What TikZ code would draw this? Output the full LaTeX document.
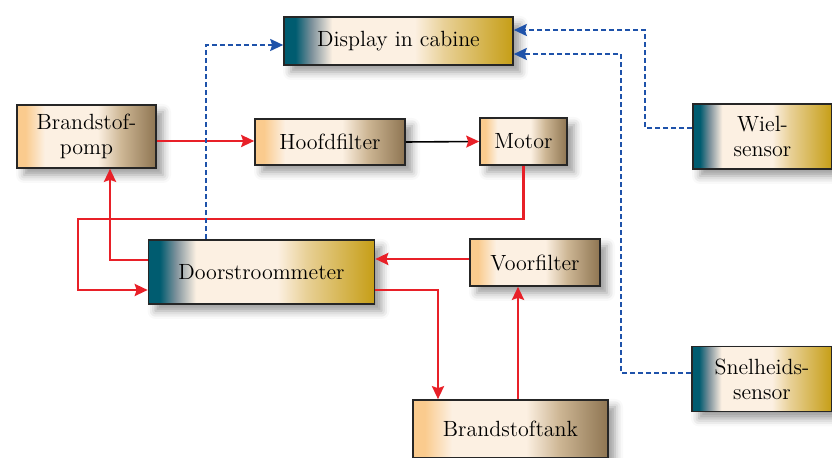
\documentclass[tikz,border=0pt]{standalone}
\usetikzlibrary{arrows.meta}
\usetikzlibrary{shadows.blur}

\definecolor{rood}{RGB}{232,32,40}
\definecolor{blauw}{RGB}{30,82,170}
\definecolor{petrol}{RGB}{0,92,112}
\definecolor{grijs}{RGB}{125,145,155}
\definecolor{creme}{RGB}{252,240,226}
\definecolor{lichtgoud}{RGB}{232,208,150}
\definecolor{goud}{RGB}{198,158,22}
\definecolor{oranje}{RGB}{250,203,142}
\definecolor{taan}{RGB}{205,182,148}
\definecolor{bruin}{RGB}{142,117,82}

\pgfdeclarehorizontalshading{sensorshade}{100bp}{color(0bp)=(petrol); color(25bp)=(petrol); color(27.5bp)=(petrol); color(31bp)=(grijs); color(35.5bp)=(creme); color(53.5bp)=(creme); color(60bp)=(lichtgoud); color(75bp)=(goud); color(100bp)=(goud)}
\pgfdeclarehorizontalshading{deelshade}{100bp}{color(0bp)=(oranje); color(25bp)=(oranje); color(28bp)=(oranje); color(35bp)=(creme); color(54bp)=(creme); color(62.5bp)=(taan); color(75bp)=(bruin); color(100bp)=(bruin)}

\begin{document}
\begin{tikzpicture}[x=0.5pt, y=-0.5pt]
    \tikzset{
      >={Stealth[length=6.5pt, width=6pt, inset=1pt]},
      blok/.style={draw=black!85, line width=0.8pt, shade, inner sep=0pt,
        align=center, font=\fontsize{11}{12.5}\selectfont,
        blur shadow={shadow xshift=3.5pt, shadow yshift=-3.5pt,
          shadow blur radius=4pt, shadow opacity=40}},
      sensor/.style={blok, shading=sensorshade},
      deel/.style={blok, shading=deelshade},
      brandstof/.style={->, draw=rood, line width=1.3pt},
      signaal/.style={->, draw=blauw, line width=1pt, dash pattern=on 2.5pt off 1.5pt},
    }
    \useasboundingbox (0,0) rectangle (832,458);

    \node[sensor, minimum width=114.5pt, minimum height=24pt] (disp) at (398.5,41) {Display in cabine};
    \node[deel, minimum width=69.5pt, minimum height=31.5pt] (pomp) at (86.5,136.5) {Brandstof-\\pomp};
    \node[deel, minimum width=75pt, minimum height=23pt] (hf) at (330,142) {Hoofdfilter};
    \node[deel, minimum width=43.5pt, minimum height=23.5pt] (mot) at (523.5,141.5) {Motor};
    \node[sensor, minimum width=69.5pt, minimum height=32.5pt] (wiel) at (762.5,136.5) {Wiel-\\sensor};
    \node[sensor, minimum width=113pt, minimum height=32pt] (ds) at (261.5,272) {Doorstroommeter};
    \node[deel, minimum width=65pt, minimum height=23.5pt] (vf) at (535,262.5) {Voorfilter};
    \node[deel, minimum width=97.5pt, minimum height=29pt] (tank) at (510.5,429) {Brandstoftank};
    \node[sensor, minimum width=70pt, minimum height=32.5pt] (snel) at (762,379) {Snelheids-\\sensor};

    \coordinate (k1) at (78,219);
    \coordinate (k2) at (645,128);
    \coordinate (k3) at (621,373);

    % brandstofleidingen
    \draw[brandstof] ([yshift=-2.25pt]pomp.east) -- ([yshift=-2.25pt]pomp.east -| hf.west);
    \draw[-{Stealth[length=6.5pt, width=6pt, inset=1pt, color=rood]}, line width=0.8pt] (hf.east) -- (mot.west);
    \draw[brandstof] (mot.south) |- (k1) |- ([yshift=-9pt]ds.west);
    \draw[brandstof] ([yshift=6pt]ds.west) -| ([xshift=11.75pt]pomp.south);
    \draw[brandstof] ([yshift=1.75pt]vf.west) -- ([yshift=1.75pt]vf.west -| ds.east);
    \draw[brandstof] ([yshift=-9pt]ds.east) -| ([xshift=-36.25pt]tank.north);
    \draw[brandstof] ([xshift=3.75pt]tank.north) -- ([xshift=3.75pt]tank.north |- vf.south);

    % signalen
    \draw[signaal] ([xshift=-27.75pt]ds.north) |- ([yshift=-2pt]disp.west);
    \draw[signaal] ([yshift=4.25pt]wiel.west) -- (k2) |- ([yshift=5.5pt]disp.east);
    \draw[signaal] ([yshift=3pt]snel.west) -- (k3) |- ([yshift=-6.5pt]disp.east);
\end{tikzpicture}
\end{document}
